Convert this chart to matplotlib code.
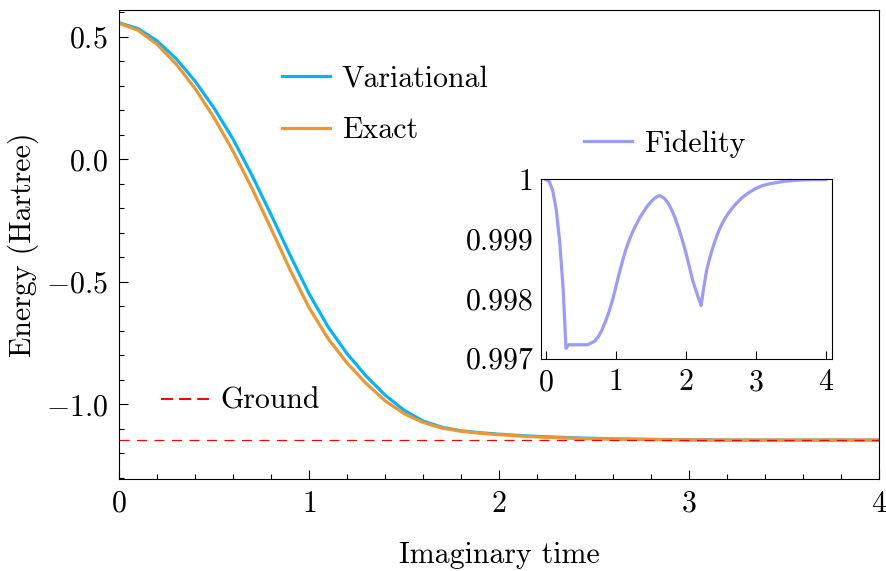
import numpy as np
import matplotlib
matplotlib.use("Agg")
import matplotlib.pyplot as plt
from matplotlib.ticker import MultipleLocator, FixedLocator, FixedFormatter

plt.rcParams["font.family"] = ["serif"]
plt.rcParams["font.serif"] = ["cmr10", "DejaVu Serif"]
plt.rcParams["mathtext.fontset"] = "cm"
plt.rcParams["axes.formatter.use_mathtext"] = True
plt.rcParams["axes.unicode_minus"] = True

# Imaginary-time evolution of the energy
time = np.round(np.arange(0, 4.01, 0.1), 2)
energy_variational = [
    0.558, 0.534, 0.484, 0.412, 0.320, 0.210, 0.083, -0.065, -0.225, -0.390,
    -0.548, -0.683, -0.793, -0.884, -0.962, -1.024, -1.068, -1.094, -1.108, -1.116,
    -1.122, -1.127, -1.131, -1.134, -1.137, -1.139, -1.141, -1.142, -1.143, -1.144,
    -1.145, -1.145, -1.146, -1.146, -1.146, -1.146, -1.146, -1.146, -1.146, -1.146,
    -1.146,
]
energy_exact = [
    0.556, 0.527, 0.470, 0.390, 0.290, 0.171, 0.034, -0.118, -0.282, -0.450,
    -0.605, -0.731, -0.831, -0.914, -0.985, -1.038, -1.074, -1.097, -1.110, -1.118,
    -1.124, -1.129, -1.133, -1.136, -1.139, -1.141, -1.142, -1.143, -1.144, -1.145,
    -1.145, -1.146, -1.146, -1.146, -1.146, -1.146, -1.146, -1.146, -1.146, -1.146,
    -1.146,
]
ground_energy = -1.146

# Fidelity between variational and exact states
time_fid = [0.0, 0.05, 0.1, 0.15, 0.2, 0.25, 0.29, 0.33, 0.4, 0.5, 0.6, 0.65,
            0.7, 0.75, 0.8, 0.85, 0.9, 0.95, 1.0, 1.05, 1.1, 1.15, 1.2, 1.25,
            1.3, 1.35, 1.4, 1.45, 1.5, 1.55, 1.6, 1.63, 1.7, 1.75, 1.8, 1.85,
            1.9, 1.95, 2.0, 2.05, 2.1, 2.15, 2.2, 2.22, 2.25, 2.3, 2.35, 2.4,
            2.45, 2.5, 2.55, 2.6, 2.7, 2.8, 2.9, 3.0, 3.1, 3.2, 3.4, 3.6, 3.8, 4.0]
fidelity = [1.00000, 0.99997, 0.99982, 0.99950, 0.99896, 0.99815, 0.99716, 0.99722,
            0.99722, 0.99722, 0.99722, 0.99725, 0.99728, 0.99735, 0.99746, 0.99760,
            0.99776, 0.99795, 0.99818, 0.99842, 0.99864, 0.99884, 0.99900, 0.99914,
            0.99926, 0.99937, 0.99946, 0.99955, 0.99962, 0.99968, 0.99972, 0.99973,
            0.99968, 0.99960, 0.99949, 0.99935, 0.99918, 0.99899, 0.99878, 0.99855,
            0.99830, 0.99812, 0.99795, 0.99788, 0.99812, 0.99848, 0.99871, 0.99890,
            0.99907, 0.99921, 0.99932, 0.99942, 0.99957, 0.99969, 0.99978, 0.99985,
            0.99990, 0.99993, 0.99997, 0.99999, 1.00000, 1.00000]

inset_yticks = [0.997, 0.998, 0.999, 1.0]
inset_yticklabels = ["0.997", "0.998", "0.999", "1"]

c_var = "#00b4ff"
c_exact = "#f0962e"
c_fid = "#9a9aff"
fs = 21.5

fig = plt.figure(figsize=(8.86, 5.71), dpi=100)
ax = fig.add_axes([0.1343, 0.1611, 0.8578, 0.8214])

l_var, = ax.plot(time, energy_variational, color=c_var, lw=2.3, label="Variational")
l_ex, = ax.plot(time, energy_exact, color=c_exact, lw=2.3, label="Exact")
l_gr = ax.axhline(ground_energy, color="red", lw=0.9, ls=(0, (8, 6)), label="Ground")

ax.set_xlim(0, 4)
ax.set_ylim(-1.305, 0.61)
ax.xaxis.set_major_locator(MultipleLocator(1))
ax.xaxis.set_minor_locator(MultipleLocator(0.2))
ax.yaxis.set_major_locator(MultipleLocator(0.5))
ax.yaxis.set_minor_locator(MultipleLocator(0.1))
ax.tick_params(which="both", direction="in", labelsize=fs, width=0.8)
ax.tick_params(which="major", length=6.3, pad=8)
ax.tick_params(which="minor", length=3.6)
for s in ax.spines.values():
    s.set_linewidth(0.8)

ax.set_xlabel("Imaginary time", fontsize=fs, labelpad=17)
ax.set_ylabel("Energy (Hartree)", fontsize=fs, labelpad=5)

leg1 = ax.legend(handles=[l_var, l_ex], loc="upper left",
                 bbox_to_anchor=(0.1987, 0.9075), frameon=False, fontsize=fs,
                 handlelength=1.6, handletextpad=0.4, labelspacing=0.8,
                 borderaxespad=0)
ax.add_artist(leg1)
leg_gr = ax.legend(handles=[l_gr], loc="upper left",
                   bbox_to_anchor=(0.0395, 0.2205), frameon=False, fontsize=fs,
                   handlelength=1.6, handletextpad=0.4, borderaxespad=0)
for h in leg_gr.legend_handles:
    h.set_linewidth(1.5)
    h.set_linestyle((0, (5.8, 2.9)))

# Inset with fidelity
ins = fig.add_axes([0.6103, 0.3713, 0.3284, 0.3152])
l_fid, = ins.plot(time_fid, fidelity, color=c_fid, lw=2.3, label="Fidelity")
ins.set_xlim(-0.071, 4.086)
ins.set_ylim(0.99698, 1.00001)
ins.xaxis.set_major_locator(MultipleLocator(1))
ins.yaxis.set_major_locator(FixedLocator(inset_yticks))
ins.yaxis.set_major_formatter(FixedFormatter(inset_yticklabels))
ins.tick_params(axis="x", direction="in", length=6, width=0.8, labelsize=fs, pad=7)
ins.tick_params(axis="y", direction="in", length=0, labelsize=fs, pad=5)
for s in ins.spines.values():
    s.set_linewidth(0.8)
ins.legend(handles=[l_fid], loc="lower left", bbox_to_anchor=(0.1076, 1.053),
           frameon=False, fontsize=fs, handlelength=1.6, handletextpad=0.4,
           borderaxespad=0)

fig.savefig("out.png", dpi=100)
